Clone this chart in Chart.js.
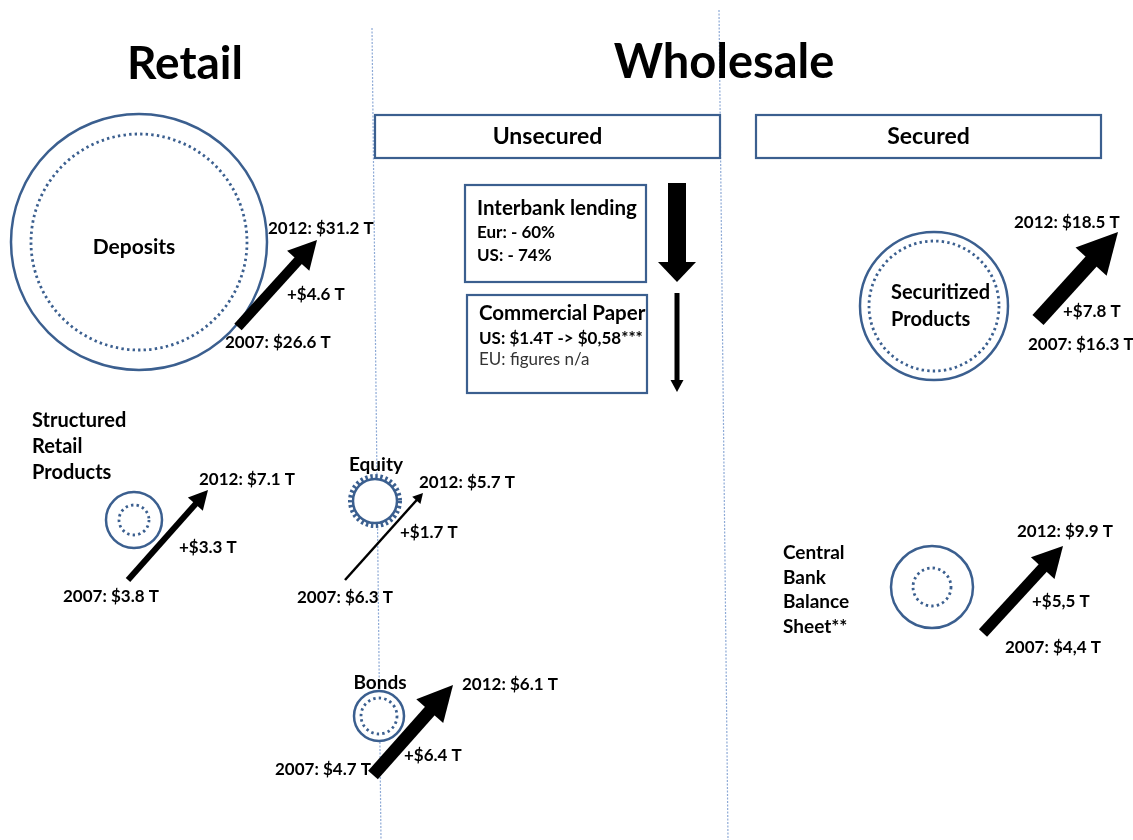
<!DOCTYPE html>
<html>
<head>
<meta charset="utf-8">
<script src="https://cdn.jsdelivr.net/npm/chart.js@4.4.1/dist/chart.umd.min.js"></script>
<style>
  body { margin: 0; background: #fff; }
  #wrap { width: 1133px; height: 840px; }
</style>
</head>
<body>
<div id="wrap"><canvas id="chart" width="1133" height="840"></canvas></div>
<script>
// section titles
const sections = ['Retail', 'Wholesale'];
const fundingTypes = ['Unsecured', 'Secured'];

// markets (one circle + one arrow each)
const categories = ['Deposits', 'Structured\nRetail\nProducts', 'Equity', 'Bonds', 'Securitized\nProducts', 'Central\nBank\nBalance\nSheet**'];
const labels2007 = ['2007: $26.6 T', '2007: $3.8 T', '2007: $6.3 T', '2007: $4.7 T', '2007: $16.3 T', '2007: $4,4 T'];
const labels2012 = ['2012: $31.2 T', '2012: $7.1 T', '2012: $5.7 T', '2012: $6.1 T', '2012: $18.5 T', '2012: $9.9 T'];
const changeLabels = ['+$4.6 T', '+$3.3 T', '+$1.7 T', '+$6.4 T', '+$7.8 T', '+$5,5 T'];

// unsecured wholesale boxes
const unsecuredItems = ['Interbank lending', 'Commercial Paper'];
const unsecuredFigures = [['Eur: - 60%', 'US: - 74%'], ['US: $1.4T -> $0,58***', 'EU: figures n/a']];

// ---- layout, in the units of the hidden axes ----
const circleCenters = [[139, 242], [134, 520], [375, 501], [379, 716], [934, 306], [932, 587]];
const outerRadius = [128, 28, 22, 25, 74, 41];
const innerRadius = [108, 15, 0, 18, 65, 19];
const arrowFrom = [[238, 327], [128, 580], [345, 580], [373, 775], [1038, 320], [983, 633]];
const arrowTo = [[317, 240], [208, 490], [423, 493], [453, 685], [1118, 232], [1063, 546]];
const arrowWidth = [10, 6, 2.5, 13, 15, 11];
const headLength = [28, 19, 10, 35, 40, 30];
const headHalf = [15, 10, 5.5, 18, 21, 16];
const pos2012 = [[268, 229], [199, 480], [419, 483], [462, 685], [1014, 223], [1017, 532]];
const posChange = [[287, 295], [179, 548], [400, 533], [404, 756], [1063, 312], [1032, 602]];
const pos2007 = [[225, 343], [63, 597], [297, 598], [275, 770], [1028, 345], [1005, 648]];
const catPos = [[134, 247, 'center'], [32, 421, 'left'], [376, 465, 'center'], [380, 683, 'center'], [891, 293, 'left'], [783, 553, 'left']];
const catLineGap = [0, 26, 0, 0, 27, 24.5];
const catFontSize = [21, 20, 19, 19, 20, 19];

const downFrom = [[677, 183], [677, 293]];
const downTo = [[677, 282], [677, 392]];
const downWidth = [18, 5];
const downHeadLength = [20, 12];
const downHeadHalf = [19, 6.5];
const boxRects = [[465, 185, 646, 282], [467, 295, 647, 393]];
const headerRects = [[375, 115, 720, 158], [756, 115, 1101, 158]];
const dividers = [[[372, 28], [381, 840]], [[719, 10], [728, 840]]];

const BLUE = '#3b5f8f';
const FONT = 'Lato, "Open Sans", sans-serif';

const pt = p => ({ x: p[0], y: p[1] });

// build datasets from the arrays above
const datasets = [];

dividers.forEach(d => {
    datasets.push({
        data: d.map(pt), showLine: true, pointRadius: 0,
        borderColor: '#8eaad6', borderWidth: 1.2, borderDash: [2, 1.5], order: 6
    });
});

// teeth round the equity circle
datasets.push({
    data: [pt(circleCenters[2])], pointRadius: 24.5, pointBorderWidth: 5,
    pointBorderColor: BLUE, pointBackgroundColor: 'rgba(0,0,0,0)',
    dash: [2.4, 2.6], order: 5
});

// outer circles
datasets.push({
    data: circleCenters.map(pt), pointRadius: outerRadius, pointBorderWidth: 2.5,
    pointBorderColor: BLUE, pointBackgroundColor: '#fff', order: 4
});

// inner dotted circles
const innerIdx = innerRadius.map((r, i) => i).filter(i => innerRadius[i] > 0);
datasets.push({
    data: innerIdx.map(i => pt(circleCenters[i])), pointRadius: innerIdx.map(i => innerRadius[i]),
    pointBorderWidth: 2.8, pointBorderColor: BLUE, pointBackgroundColor: 'rgba(0,0,0,0)',
    dash: [2.4, 3.2], order: 3
});

// growth arrows
categories.forEach((c, i) => {
    datasets.push({
        label: c, data: [pt(arrowFrom[i]), pt(arrowTo[i])], showLine: true, pointRadius: 0,
        borderColor: '#000', borderWidth: arrowWidth[i], borderCapStyle: 'butt',
        head: [headLength[i], headHalf[i]], order: 1
    });
});

// falling unsecured funding arrows
unsecuredItems.forEach((c, i) => {
    datasets.push({
        label: c, data: [pt(downFrom[i]), pt(downTo[i])], showLine: true, pointRadius: 0,
        borderColor: '#000', borderWidth: downWidth[i], borderCapStyle: 'butt',
        head: [downHeadLength[i], downHeadHalf[i]], order: 1
    });
});

// arrow heads + dotted point borders
const markPlugin = {
    id: 'marks',
    beforeDatasetDraw(chart, args) {
        const ds = chart.data.datasets[args.index];
        const ctx = chart.ctx;
        ctx.save();
        if (ds.dash) ctx.setLineDash(ds.dash);
        if (ds.head) {
            // cut the shaft where the head starts
            const p0 = args.meta.data[0], p1 = args.meta.data[1];
            const len = Math.hypot(p1.x - p0.x, p1.y - p0.y);
            const ux = (p1.x - p0.x) / len, uy = (p1.y - p0.y) / len;
            const bx = p1.x - ux * (ds.head[0] - 1), by = p1.y - uy * (ds.head[0] - 1);
            const nx = -uy, ny = ux;
            ctx.beginPath();
            ctx.moveTo(bx + nx * 2000, by + ny * 2000);
            ctx.lineTo(bx + nx * 2000 - ux * 4000, by + ny * 2000 - uy * 4000);
            ctx.lineTo(bx - nx * 2000 - ux * 4000, by - ny * 2000 - uy * 4000);
            ctx.lineTo(bx - nx * 2000, by - ny * 2000);
            ctx.closePath();
            ctx.clip();
        }
    },
    afterDatasetDraw(chart, args) {
        const ds = chart.data.datasets[args.index];
        const ctx = chart.ctx;
        ctx.restore();
        if (ds.head) {
            const p0 = args.meta.data[0], p1 = args.meta.data[1];
            const len = Math.hypot(p1.x - p0.x, p1.y - p0.y);
            const ux = (p1.x - p0.x) / len, uy = (p1.y - p0.y) / len;
            const bx = p1.x - ux * ds.head[0], by = p1.y - uy * ds.head[0];
            const nx = -uy, ny = ux;
            ctx.save();
            ctx.fillStyle = ds.borderColor;
            ctx.beginPath();
            ctx.moveTo(p1.x, p1.y);
            ctx.lineTo(bx + nx * ds.head[1], by + ny * ds.head[1]);
            ctx.lineTo(bx - nx * ds.head[1], by - ny * ds.head[1]);
            ctx.closePath();
            ctx.fill();
            ctx.restore();
        }
    }
};

// boxes and all the texts
const textPlugin = {
    id: 'texts',
    afterDatasetsDraw(chart) {
        const ctx = chart.ctx;
        const sx = chart.scales.x, sy = chart.scales.y;
        const X = v => sx.getPixelForValue(v), Y = v => sy.getPixelForValue(v);

        const text = (s, x, y, font, align, color) => {
            ctx.font = font;
            ctx.textAlign = align || 'left';
            ctx.textBaseline = 'middle';
            ctx.fillStyle = color || '#000';
            ctx.fillText(s, X(x), Y(y));
        };
        const box = r => {
            ctx.fillStyle = '#fff';
            ctx.fillRect(X(r[0]), Y(r[1]), X(r[2]) - X(r[0]), Y(r[3]) - Y(r[1]));
            ctx.strokeStyle = BLUE;
            ctx.lineWidth = 2.2;
            ctx.strokeRect(X(r[0]), Y(r[1]), X(r[2]) - X(r[0]), Y(r[3]) - Y(r[1]));
        };
        ctx.save();

        // section titles
        text(sections[0], 185, 64, 'bold 46px ' + FONT, 'center');
        text(sections[1], 724, 63, 'bold 47px ' + FONT, 'center');

        // funding type headers
        headerRects.forEach((r, i) => {
            box(r);
            text(fundingTypes[i], (r[0] + r[2]) / 2, (r[1] + r[3]) / 2, 'bold 23px ' + FONT, 'center');
        });

        // unsecured item boxes
        boxRects.forEach((r, i) => {
            box(r);
            text(unsecuredItems[i], r[0] + 12, r[1] + (i ? 18 : 23), 'bold 20.5px ' + FONT);
            unsecuredFigures[i].forEach((f, j) => {
                const bold = !(i === 1 && j === 1);
                text(f, r[0] + 12, r[1] + (i ? 44 : 48) + j * (i ? 21 : 23),
                    (bold ? 'bold ' : '') + '17px ' + FONT, 'left', bold ? '#000' : '#333');
            });
        });

        // market labels and values
        categories.forEach((c, i) => {
            c.split('\n').forEach((line, j) => {
                text(line, catPos[i][0], catPos[i][1] + j * catLineGap[i], 'bold ' + catFontSize[i] + 'px ' + FONT, catPos[i][2]);
            });
            text(labels2012[i], pos2012[i][0], pos2012[i][1], 'bold 17px ' + FONT);
            text(changeLabels[i], posChange[i][0], posChange[i][1], 'bold 17px ' + FONT);
            text(labels2007[i], pos2007[i][0], pos2007[i][1], 'bold 17px ' + FONT);
        });
        ctx.restore();
    }
};

const chart = new Chart(document.getElementById('chart'), {
    type: 'scatter',
    data: { datasets: datasets },
    options: {
        responsive: false,
        animation: false,
        layout: { padding: 0, autoPadding: false },
        scales: {
            x: { type: 'linear', min: 0, max: 1133, display: false },
            y: { type: 'linear', min: 0, max: 840, reverse: true, display: false }
        },
        plugins: { legend: { display: false }, tooltip: { enabled: false } },
        events: []
    },
    plugins: [markPlugin, textPlugin]
});
</script>
</body>
</html>
